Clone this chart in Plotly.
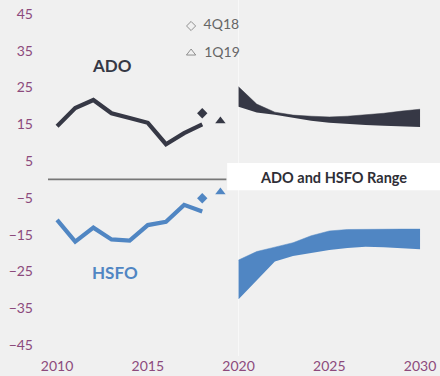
import plotly.graph_objects as go

years_hist = [2010, 2011, 2012, 2013, 2014, 2015, 2016, 2017, 2018]
ado_hist = [14.5, 19.4, 21.6, 18.0, 16.7, 15.4, 9.6, 12.6, 15.0]
hsfo_hist = [-11.0, -16.9, -13.1, -16.3, -16.6, -12.4, -11.5, -6.9, -8.7]

q_4q18_x = [2018]
ado_4q18 = [18.0]
hsfo_4q18 = [-5.1]
q_1q19_x = [2019]
ado_1q19 = [15.9]
hsfo_1q19 = [-3.4]

years_fc = [2020, 2021, 2022, 2023, 2024, 2025, 2026, 2027, 2028, 2029, 2030]
ado_upper = [25.2, 20.5, 18.3, 17.5, 17.2, 17.0, 17.2, 17.5, 18.0, 18.6, 19.1]
ado_lower = [19.8, 18.2, 17.6, 16.8, 16.0, 15.4, 15.0, 14.8, 14.6, 14.4, 14.3]
hsfo_upper = [-21.9, -19.6, -18.4, -17.2, -15.3, -14.0, -13.6, -13.5, -13.5, -13.5, -13.5]
hsfo_lower = [-32.6, -27.5, -22.3, -20.8, -19.9, -19.2, -18.6, -18.3, -18.4, -18.7, -19.0]

legend_names = ["4Q18", "1Q19"]
legend_symbols = ["diamond-open", "triangle-up-open"]

y_ticks = [45, 35, 25, 15, 5, -5, -15, -25, -35, -45]
x_ticks = [2010, 2015, 2020, 2025, 2030]

DARK = "#363845"
BLUE = "#5086c3"
TICK = "#8c4a7c"
BG = "#f0f0f0"
LEG = "#666666"
FONT = "Lato"

fig = go.Figure()

# forecast bands
fig.add_trace(go.Scatter(x=years_fc, y=ado_lower, mode="lines", line=dict(width=0, color=DARK),
                         showlegend=False, hoverinfo="skip"))
fig.add_trace(go.Scatter(x=years_fc, y=ado_upper, mode="lines", line=dict(width=0.5, color=DARK),
                         fill="tonexty", fillcolor=DARK, showlegend=False, hoverinfo="skip"))
fig.add_trace(go.Scatter(x=years_fc, y=hsfo_lower, mode="lines", line=dict(width=0, color=BLUE),
                         showlegend=False, hoverinfo="skip"))
fig.add_trace(go.Scatter(x=years_fc, y=hsfo_upper, mode="lines", line=dict(width=0.5, color=BLUE),
                         fill="tonexty", fillcolor=BLUE, showlegend=False, hoverinfo="skip"))

# history lines
fig.add_trace(go.Scatter(x=years_hist, y=ado_hist, mode="lines", line=dict(width=4.2, color=DARK),
                         showlegend=False))
fig.add_trace(go.Scatter(x=years_hist, y=hsfo_hist, mode="lines", line=dict(width=4.2, color=BLUE),
                         showlegend=False))

# quarterly markers
fig.add_trace(go.Scatter(x=q_4q18_x, y=ado_4q18, mode="markers",
                         marker=dict(symbol="diamond", size=8, color=DARK), showlegend=False))
fig.add_trace(go.Scatter(x=q_4q18_x, y=hsfo_4q18, mode="markers",
                         marker=dict(symbol="diamond", size=8, color=BLUE), showlegend=False))
fig.add_trace(go.Scatter(x=q_1q19_x, y=ado_1q19, mode="markers",
                         marker=dict(symbol="triangle-up", size=9, color=DARK), showlegend=False))
fig.add_trace(go.Scatter(x=q_1q19_x, y=hsfo_1q19, mode="markers",
                         marker=dict(symbol="triangle-up", size=9, color=BLUE), showlegend=False))

# legend (drawn on an overlay axis in plot-fraction units)
leg_x = [0.365, 0.365]
leg_y = [0.927, 0.851]
fig.add_trace(go.Scatter(x=leg_x, y=leg_y, xaxis="x2", yaxis="y2", mode="markers+text",
                         text=["  " + n for n in legend_names], textposition="middle right",
                         textfont=dict(family=FONT, size=14, color=LEG),
                         marker=dict(symbol=legend_symbols, size=[7, 8], color=LEG,
                                     line=dict(width=1, color=LEG)),
                         showlegend=False, hoverinfo="skip"))

shapes = [
    dict(type="line", xref="x", yref="paper", x0=2020, x1=2020, y0=0, y1=1,
         line=dict(color="#f8f8f8", width=1), layer="below"),
    dict(type="line", xref="paper", yref="y", x0=0, x1=0.455, y0=0, y1=0,
         line=dict(color="#777777", width=1.8)),
    dict(type="rect", xref="paper", yref="y", x0=0.457, x1=1.0, y0=-2.9, y1=4.5,
         fillcolor="white", line=dict(width=0)),
]

annotations = [
    dict(x=2013, y=31, xref="x", yref="y", text="<b>ADO</b>", showarrow=False,
         font=dict(family=FONT, size=17, color=DARK)),
    dict(x=2013.2, y=-25.2, xref="x", yref="y", text="<b>HSFO</b>", showarrow=False,
         font=dict(family=FONT, size=17, color=BLUE)),
    dict(x=0.728, y=0.6, xref="paper", yref="y", xanchor="center", yanchor="middle",
         text="<b>ADO and HSFO Range</b>", showarrow=False,
         font=dict(family=FONT, size=14.5, color="#2e2e36")),
]

fig.update_layout(
    width=440, height=376,
    margin=dict(l=48, r=0, t=0, b=20),
    paper_bgcolor=BG, plot_bgcolor=BG,
    font=dict(family=FONT, size=14, color=TICK),
    shapes=shapes, annotations=annotations,
    showlegend=False,
    xaxis=dict(range=[2009.5, 2031.1], tickvals=x_ticks, showgrid=False, zeroline=False,
               showline=False, ticks="", tickfont=dict(size=14, color=TICK)),
    yaxis=dict(range=[-48.0, 48.8], tickvals=y_ticks, showgrid=False, zeroline=False,
               showline=False, ticks="", ticklabelstandoff=14, tickfont=dict(size=14, color=TICK)),
    xaxis2=dict(overlaying="x", range=[0, 1], visible=False),
    yaxis2=dict(overlaying="y", range=[0, 1], visible=False),
)

fig.write_html("out.html")
